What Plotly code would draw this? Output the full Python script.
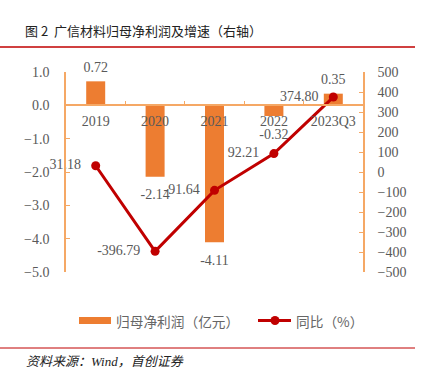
import plotly.graph_objects as go

categories = ["2019", "2020", "2021", "2022", "2023Q3"]
profit = [0.72, -2.14, -4.11, -0.32, 0.35]
growth = [31.18, -396.79, -91.64, 92.21, 374.80]
profit_labels = ["0.72", "-2.14", "-4.11", "-0.32", "0.35"]
growth_labels = ["31.18", "-396.79", "-91.64", "92.21", "374.80"]

BAR = "#ED7D31"
LINE = "#C00000"
AX = "#F5A865"
GRAY = "#595959"
SERIF = "Liberation Serif, Times New Roman, serif"
CJK = "Noto Sans CJK SC, sans-serif"
FS = 14

fig = go.Figure()
fig.add_trace(go.Bar(
    x=categories, y=profit, name="归母净利润（亿元）",
    marker=dict(color=BAR, line=dict(width=0)), width=0.32,
    yaxis="y", showlegend=False, hoverinfo="skip",
))
# bar value labels
fig.add_trace(go.Scatter(
    x=categories, y=profit, mode="markers+text",
    marker=dict(size=[8 if v >= 0 else 18 for v in profit], opacity=0),
    text=profit_labels,
    textposition=["top center" if v >= 0 else "bottom center" for v in profit],
    textfont=dict(family=SERIF, size=FS, color=GRAY),
    cliponaxis=False, yaxis="y", showlegend=False, hoverinfo="skip",
))
fig.add_trace(go.Scatter(
    x=categories, y=growth, name="同比（%）", mode="lines+markers",
    line=dict(color=LINE, width=3), marker=dict(color=LINE, size=9),
    cliponaxis=False, yaxis="y2", showlegend=False,
))
# line value labels
fig.add_trace(go.Scatter(
    x=categories, y=growth, mode="markers+text",
    marker=dict(size=22, opacity=0),
    text=growth_labels, textposition="middle left",
    textfont=dict(family=SERIF, size=FS, color=GRAY),
    cliponaxis=False, yaxis="y2", showlegend=False, hoverinfo="skip",
))

fig.update_layout(
    width=429, height=375,
    margin=dict(l=66, r=66, t=72, b=103),
    paper_bgcolor="white", plot_bgcolor="white",
    xaxis=dict(
        type="category", anchor="free", position=5/6,
        showline=True, linecolor=AX, linewidth=1.5,
        ticks="inside", tickson="boundaries", ticklen=4, tickcolor=AX,
        tickfont=dict(family=SERIF, size=FS, color=GRAY),
        showgrid=False, zeroline=False, ticklabelstandoff=3,
    ),
    yaxis=dict(
        range=[-5, 1], dtick=1, tickformat=".1f",
        showline=True, linecolor=AX, linewidth=1.5,
        ticks="inside", ticklen=4, tickcolor=AX,
        tickfont=dict(family=SERIF, size=FS, color=GRAY),
        showgrid=False, zeroline=False, ticklabelstandoff=12,
    ),
    yaxis2=dict(
        range=[-500, 500], dtick=100, overlaying="y", side="right",
        showline=True, linecolor=AX, linewidth=1.5,
        ticks="inside", ticklen=4, tickcolor=AX,
        tickfont=dict(family=SERIF, size=FS, color=GRAY),
        showgrid=False, zeroline=False, ticklabelstandoff=10,
    ),
    shapes=[
        dict(type="line", xref="paper", yref="paper",
             x0=-66/297, x1=349/297, y0=(272-47)/200, y1=(272-47)/200,
             line=dict(color="#C00000", width=1.5)),
        dict(type="line", xref="paper", yref="paper",
             x0=-66/297, x1=349/297, y0=-(348-272)/200, y1=-(348-272)/200,
             line=dict(color="#C00000", width=1)),
        # legend swatches
        dict(type="rect", xref="paper", yref="paper",
             x0=(79-66)/297, x1=(111-66)/297,
             y0=-(324-272)/200, y1=-(317-272)/200,
             fillcolor=BAR, line=dict(width=0)),
        dict(type="line", xref="paper", yref="paper",
             x0=(258-66)/297, x1=(291-66)/297,
             y0=-(320.5-272)/200, y1=-(320.5-272)/200,
             line=dict(color=LINE, width=3)),
        dict(type="circle", xref="paper", yref="paper",
             x0=(270.5-66)/297, x1=(279.5-66)/297,
             y0=-(325-272)/200, y1=-(316-272)/200,
             fillcolor=LINE, line=dict(width=0)),
    ],
    annotations=[
        dict(text="图 2  广信材料归母净利润及增速（右轴）", xref="paper", yref="paper",
             x=-(66-23)/297, y=(272-31)/200, xanchor="left", yanchor="middle",
             showarrow=False, font=dict(family=CJK, size=13, color="#222222")),
        dict(text="归母净利润（亿元）", xref="paper", yref="paper",
             x=(114-66)/297, y=-(320.5-272)/200, xanchor="left", yanchor="middle",
             showarrow=False, font=dict(family=CJK, size=13.7, color="#666666")),
        dict(text="同比（%）", xref="paper", yref="paper",
             x=(294-66)/297, y=-(320.5-272)/200, xanchor="left", yanchor="middle",
             showarrow=False, font=dict(family=CJK, size=13.7, color="#666666")),
        dict(text="<i>资料来源：Wind，首创证券</i>", xref="paper", yref="paper",
             x=-(66-24)/297, y=-(361-272)/200, xanchor="left", yanchor="middle",
             showarrow=False, font=dict(family="Liberation Serif, Noto Sans CJK SC", size=13, color="#222222")),
    ],
)

fig.write_html("out.html", config={"displayModeBar": False},
               post_script="document.body.style.margin='0';")
